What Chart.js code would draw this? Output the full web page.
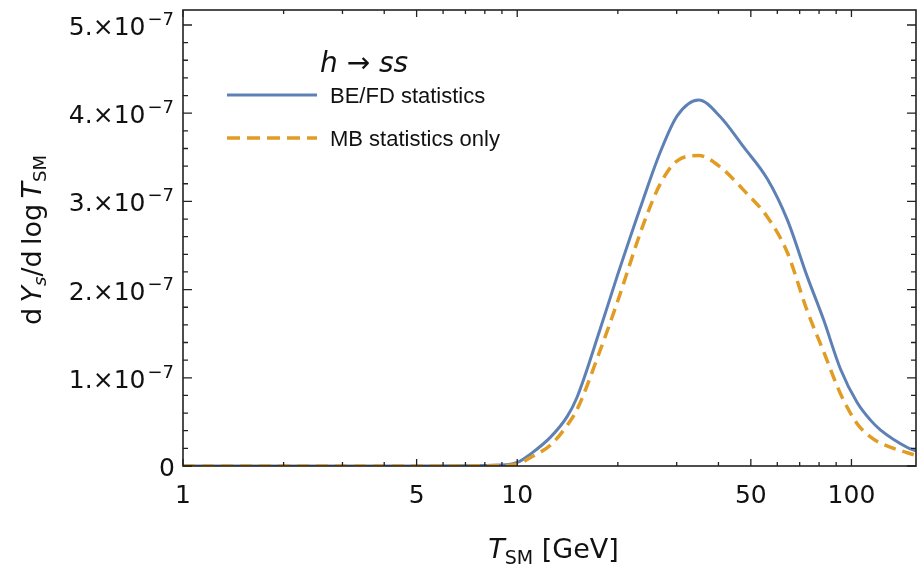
<!DOCTYPE html>
<html>
<head>
<meta charset="utf-8">
<script src="https://cdn.jsdelivr.net/npm/chart.js@4.4.0/dist/chart.umd.min.js"></script>
<style>
  html, body { margin: 0; padding: 0; background: #fff; }
  canvas { display: block; }
</style>
</head>
<body>
<canvas id="chart" width="917" height="568"></canvas>
<script>
const tempGeV = [1, 5, 9, 10, 11, 12.6, 14.1, 15.1, 17.7, 19.9, 23.8, 26.8, 30.1, 34.9, 40.5, 47.5, 56.1, 64.3, 73.7, 82.5, 92.7, 104, 114, 122, 147, 156];
// dY_s / dlog T_SM, in units of 1e-7
const beFdStats = [0, 0, 0.01, 0.04, 0.14, 0.33, 0.56, 0.78, 1.55, 2.15, 3.02, 3.56, 3.97, 4.15, 3.96, 3.62, 3.25, 2.79, 2.15, 1.66, 1.10, 0.72, 0.52, 0.41, 0.21, 0.17];
const mbStatsOnly = [0, 0, 0.005, 0.02, 0.10, 0.24, 0.46, 0.64, 1.31, 1.85, 2.73, 3.20, 3.46, 3.52, 3.39, 3.13, 2.82, 2.42, 1.76, 1.30, 0.82, 0.48, 0.33, 0.26, 0.15, 0.12];

const xMajorTicks = [1, 5, 10, 50, 100];
const xMinorTicks = [2, 3, 4, 6, 7, 8, 9, 20, 30, 40, 60, 70, 80, 90];
const yMajorTicks = [0, 1, 2, 3, 4, 5];
const yTickLabels = ['0', '1.\u00d710', '2.\u00d710', '3.\u00d710', '4.\u00d710', '5.\u00d710'];
const yMinorStep = 0.2;

const BLUE = '#5e81b5';
const ORANGE = '#e19c24';
const FRAME = '#222';
const DV = '"DejaVu Sans", sans-serif';
const LIB = '"Liberation Sans", Arial, sans-serif';

function toPoints(ys) {
    return tempGeV.map((t, i) => ({ x: t, y: ys[i] }));
}

// draw a row of text pieces with different fonts, starting at x
function drawRuns(ctx, runs, x, y) {
    runs.forEach(r => {
        ctx.font = r.font;
        ctx.fillText(r.t, x, y + (r.dy || 0));
        x += ctx.measureText(r.t).width;
    });
}
function runsWidth(ctx, runs) {
    let w = 0;
    runs.forEach(r => { ctx.font = r.font; w += ctx.measureText(r.t).width; });
    return w;
}

const framePlugin = {
    id: 'frame',
    afterDatasetsDraw(chart) {
        const { ctx, chartArea: a, scales: { x, y } } = chart;
        ctx.save();
        ctx.strokeStyle = FRAME;
        ctx.lineWidth = 1.6;
        ctx.strokeRect(a.left, a.top, a.right - a.left, a.bottom - a.top);

        ctx.lineWidth = 1.3;
        ctx.beginPath();
        // x ticks, bottom and top, pointing inward
        const xt = (v, len) => {
            const px = x.getPixelForValue(v);
            ctx.moveTo(px, a.bottom); ctx.lineTo(px, a.bottom - len);
            ctx.moveTo(px, a.top); ctx.lineTo(px, a.top + len);
        };
        xMajorTicks.forEach(v => xt(v, 7));
        xMinorTicks.forEach(v => xt(v, 4));
        // y ticks, left and right
        const yt = (v, len) => {
            const py = y.getPixelForValue(v);
            ctx.moveTo(a.left, py); ctx.lineTo(a.left + len, py);
            ctx.moveTo(a.right, py); ctx.lineTo(a.right - len, py);
        };
        for (let v = 0; v <= y.max + 1e-9; v += yMinorStep) {
            const isMajor = yMajorTicks.some(m => Math.abs(m - v) < 1e-6);
            yt(v, isMajor ? 9 : 5);
        }
        ctx.stroke();
        ctx.restore();
    },
    afterDraw(chart) {
        const { ctx, chartArea: a, scales: { x, y } } = chart;
        ctx.save();
        ctx.fillStyle = '#111';
        ctx.textBaseline = 'alphabetic';

        // x tick labels
        ctx.font = '25px ' + DV;
        ctx.textAlign = 'center';
        xMajorTicks.forEach(v => ctx.fillText(String(v), x.getPixelForValue(v), 503));

        // y tick labels  n.x10^-7
        ctx.textAlign = 'left';
        yMajorTicks.forEach((v, i) => {
            const py = y.getPixelForValue(v);
            const right = 174;
            if (v === 0) {
                ctx.font = '25px ' + DV;
                const w = ctx.measureText('0').width;
                ctx.fillText('0', right - w + 1, py + 10);
                return;
            }
            ctx.font = '18px ' + DV;
            const sup = '\u22127';
            const ws = ctx.measureText(sup).width;
            ctx.fillText(sup, right - ws, py);
            ctx.font = '25px ' + DV;
            const wm = ctx.measureText(yTickLabels[i]).width;
            ctx.fillText(yTickLabels[i], right - ws - wm - 2, py + 10);
        });

        // x axis title
        const xRuns = [
            { t: 'T', font: 'italic 27px ' + DV },
            { t: 'SM', font: '19px ' + DV, dy: 6 },
            { t: ' [GeV]', font: '27px ' + DV }
        ];
        drawRuns(ctx, xRuns, (a.left + a.right) / 2 + 4 - runsWidth(ctx, xRuns) / 2, 558);

        // y axis title, rotated
        const yRuns = [
            { t: 'd\u2009', font: '27px ' + DV },
            { t: 'Y', font: 'italic 27px ' + DV },
            { t: 's', font: 'italic 18px ' + DV, dy: 5 },
            { t: '/d\u2009log\u2009', font: '27px ' + DV },
            { t: 'T', font: 'italic 27px ' + DV },
            { t: 'SM', font: '18px ' + DV, dy: 5 }
        ];
        ctx.translate(41, 240);
        ctx.rotate(-Math.PI / 2);
        drawRuns(ctx, yRuns, -runsWidth(ctx, yRuns) / 2, 0);
        ctx.setTransform(1, 0, 0, 1, 0, 0);

        // legend
        ctx.font = 'italic 28px ' + DV;
        ctx.fillText('h \u2192 ss', 320, 72);
        ctx.lineWidth = 3;
        ctx.strokeStyle = BLUE;
        ctx.beginPath(); ctx.moveTo(227, 95); ctx.lineTo(317, 95); ctx.stroke();
        ctx.strokeStyle = ORANGE;
        ctx.lineWidth = 3.5;
        ctx.setLineDash([13, 7]);
        ctx.beginPath(); ctx.moveTo(227, 138); ctx.lineTo(317, 138); ctx.stroke();
        ctx.setLineDash([]);
        ctx.font = '22px ' + LIB;
        ctx.fillText('BE/FD statistics', 330, 103);
        ctx.fillText('MB statistics only', 330, 146);
        ctx.restore();
    }
};

new Chart(document.getElementById('chart'), {
    type: 'line',
    data: {
        datasets: [
            {
                label: 'BE/FD statistics',
                data: toPoints(beFdStats),
                borderColor: BLUE,
                borderWidth: 3,
                order: 1
            },
            {
                label: 'MB statistics only',
                data: toPoints(mbStatsOnly),
                borderColor: ORANGE,
                borderWidth: 3.5,
                borderDash: [12, 7],
                order: 0
            }
        ]
    },
    options: {
        responsive: false,
        animation: false,
        devicePixelRatio: 1,
        layout: { padding: { left: 183, right: 1, top: 10, bottom: 102 } },
        elements: {
            point: { radius: 0 },
            line: { cubicInterpolationMode: 'monotone', fill: false }
        },
        scales: {
            x: { type: 'logarithmic', min: 1, max: 156, display: false },
            y: { type: 'linear', min: 0, max: 5.17, display: false }
        },
        plugins: {
            legend: { display: false },
            tooltip: { enabled: false }
        }
    },
    plugins: [framePlugin]
});
</script>
</body>
</html>
